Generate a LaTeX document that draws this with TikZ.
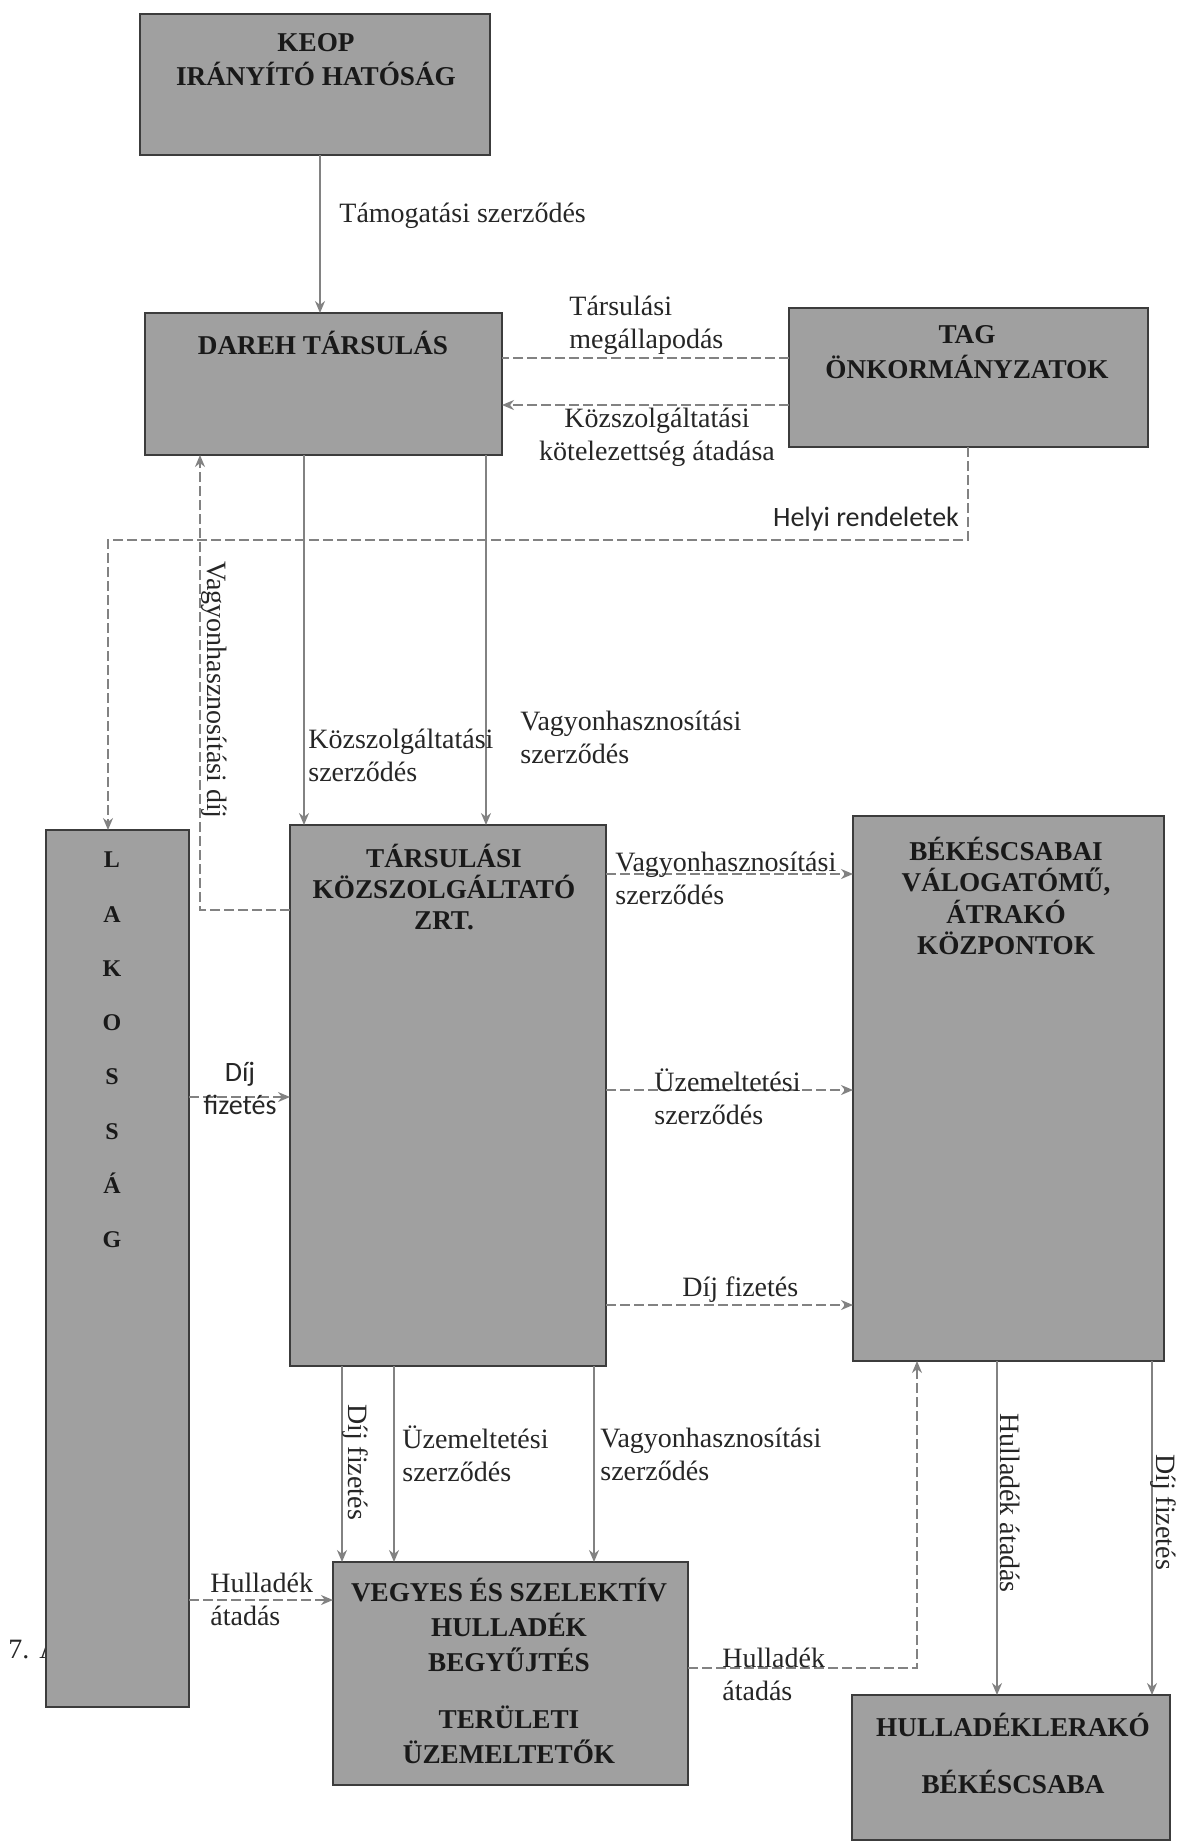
\documentclass[tikz,border=0pt]{standalone}
\usepackage{fontspec}
\setmainfont{Liberation Serif}
\newfontfamily\lblsans{Carlito}
\usetikzlibrary{arrows.meta}
\definecolor{boxfill}{RGB}{160,160,160}
\definecolor{boxline}{RGB}{60,60,60}
\definecolor{connc}{RGB}{130,130,130}
\newcommand{\mkbox}[5]{\node[box, minimum width={(#4-#2)*0.5pt}, minimum height={(#5-#3)*0.5pt}] (#1) at (#2,#3) {};}
\begin{document}
\begin{tikzpicture}[x=0.5pt,y=-0.5pt,
  box/.style={draw=boxline, line width=1.2pt, fill=boxfill, inner sep=0pt, outer sep=0pt, anchor=north west},
  boxtext/.style={font=\fontsize{13.6}{17}\selectfont\bfseries, align=center, inner sep=0pt, text=black!90},
  lbl/.style={font=\fontsize{14}{16.5}\selectfont, align=left, inner sep=0pt, text=black!85},
  sanslbl/.style={font=\lblsans\fontsize{14}{16.5}\selectfont, align=center, inner sep=0pt, text=black!85},
  conn/.style={draw=connc, line width=0.7pt, -{Stealth[length=6pt,width=5pt]}},
  dconn/.style={conn, dash pattern=on 5pt off 2pt},
  dline/.style={draw=connc, line width=0.7pt, dash pattern=on 5pt off 2pt},
]
\fill[white] (0,0) rectangle (1185,1843);
\useasboundingbox (0,0) rectangle (1185,1843);

% partially hidden caption fragment
\node[lbl, anchor=west] (cap) at (8,1647) {7.\hspace{5pt}Á};

% boxes
\mkbox{keop}{140}{14}{490}{155}
\mkbox{dareh}{145}{313}{502}{455}
\mkbox{tag}{789}{308}{1148}{447}
\mkbox{lak}{46}{830}{189}{1707}
\mkbox{zrt}{290}{825}{606}{1366}
\mkbox{bek}{853}{816}{1164}{1361}
\mkbox{veg}{333}{1562}{688}{1785}
\mkbox{hull}{852}{1695}{1170}{1840}

% box texts
\node[boxtext] (keopt) at (316,60) {KEOP\\IRÁNYÍTÓ HATÓSÁG};
\node[boxtext] (dareht) at (323,343) {DAREH TÁRSULÁS};
\node[boxtext, font=\fontsize{13.6}{17.5}\selectfont\bfseries] (tagt) at (967,352) {TAG\\ÖNKORMÁNYZATOK};
\node[boxtext, font=\fontsize{13.6}{15.3}\selectfont\bfseries] (zrtt) at (444,887) {TÁRSULÁSI\\KÖZSZOLGÁLTATÓ\\ZRT.};
\node[boxtext, font=\fontsize{13.6}{15.7}\selectfont\bfseries] (bekt) at (1006,896) {BÉKÉSCSABAI\\VÁLOGATÓMŰ,\\ÁTRAKÓ\\KÖZPONTOK};
\node[boxtext, font=\fontsize{13.6}{17.5}\selectfont\bfseries] (vegt1) at (509,1625) {VEGYES ÉS SZELEKTÍV\\HULLADÉK\\BEGYŰJTÉS};
\node[boxtext, font=\fontsize{13.6}{17.5}\selectfont\bfseries] (vegt2) at (509,1735) {TERÜLETI\\ÜZEMELTETŐK};
\node[boxtext, font=\fontsize{13.6}{28.5}\selectfont\bfseries] (hullt) at (1013,1753) {HULLADÉKLERAKÓ\\BÉKÉSCSABA};
\node[boxtext, font=\fontsize{12}{27.15}\selectfont\bfseries] (lakt) at (112,1050) {L\\A\\K\\O\\S\\S\\Á\\G};

% connectors
\draw[conn] (keop.south -| 320,0) -- (dareh.north -| 320,0);
\draw[dline] (tag.west |- 0,358) -- (dareh.east |- 0,358);
\draw[dconn] (tag.west |- 0,405) -- (dareh.east |- 0,405);
\draw[dconn] (tag.south -| 968,0) |- (108,540) -- (lak.north -| 108,0);
\draw[dconn] (zrt.west |- 0,910) -| (dareh.south -| 200,0);
\draw[conn] (dareh.south -| 304,0) -- (zrt.north -| 304,0);
\draw[conn] (dareh.south -| 486,0) -- (zrt.north -| 486,0);
\draw[dconn] (lak.east |- 0,1097) -- (zrt.west |- 0,1097);
\draw[dconn] (zrt.east |- 0,874) -- (bek.west |- 0,874);
\draw[dconn] (zrt.east |- 0,1090) -- (bek.west |- 0,1090);
\draw[dconn] (zrt.east |- 0,1305) -- (bek.west |- 0,1305);
\draw[conn] (zrt.south -| 342,0) -- (veg.north -| 342,0);
\draw[conn] (zrt.south -| 394,0) -- (veg.north -| 394,0);
\draw[conn] (zrt.south -| 594,0) -- (veg.north -| 594,0);
\draw[dconn] (lak.east |- 0,1600) -- (veg.west |- 0,1600);
\draw[dconn] (veg.east |- 0,1668) -| (bek.south -| 917,0);
\draw[conn] (bek.south -| 997,0) -- (hull.north -| 997,0);
\draw[conn] (bek.south -| 1152,0) -- (hull.north -| 1152,0);

% connector labels
\node[lbl, anchor=west] (l1) at (339,216) {Támogatási szerződés};
\node[lbl, anchor=west] (l2) at (569,325) {Társulási\\megállapodás};
\node[lbl, align=center] (l3) at (657,437) {Közszolgáltatási\\kötelezettség átadása};
\node[sanslbl] (l4) at (866,519) {Helyi rendeletek};
\node[lbl, rotate=-90] (l5) at (214,690) {Vagyonhasznosítási díj};
\node[lbl, anchor=west] (l6) at (308,755) {Közszolgáltatási\\szerződés};
\node[lbl, anchor=west] (l7) at (520,737) {Vagyonhasznosítási\\szerződés};
\node[sanslbl] (l8) at (240,1088) {Díj\\fizetés};
\node[lbl, anchor=west] (l9) at (615,878) {Vagyonhasznosítási\\szerződés};
\node[lbl, anchor=west] (l10) at (654,1097) {Üzemeltetési\\szerződés};
\node[lbl, anchor=west] (l11) at (682,1290) {Díj fizetés};
\node[lbl, rotate=-90] (l12) at (355,1462) {Díj fizetés};
\node[lbl, anchor=west] (l13) at (402,1454) {Üzemeltetési\\szerződés};
\node[lbl, anchor=west] (l14) at (600,1454) {Vagyonhasznosítási\\szerződés};
\node[lbl, anchor=west] (l15) at (210,1599) {Hulladék\\átadás};
\node[lbl, anchor=west] (l16) at (722,1674) {Hulladék\\átadás};
\node[lbl, rotate=-90] (l17) at (1010,1503) {Hulladék átadás};
\node[lbl, rotate=-90] (l18) at (1163,1512) {Díj fizetés};
\end{tikzpicture}
\end{document}
